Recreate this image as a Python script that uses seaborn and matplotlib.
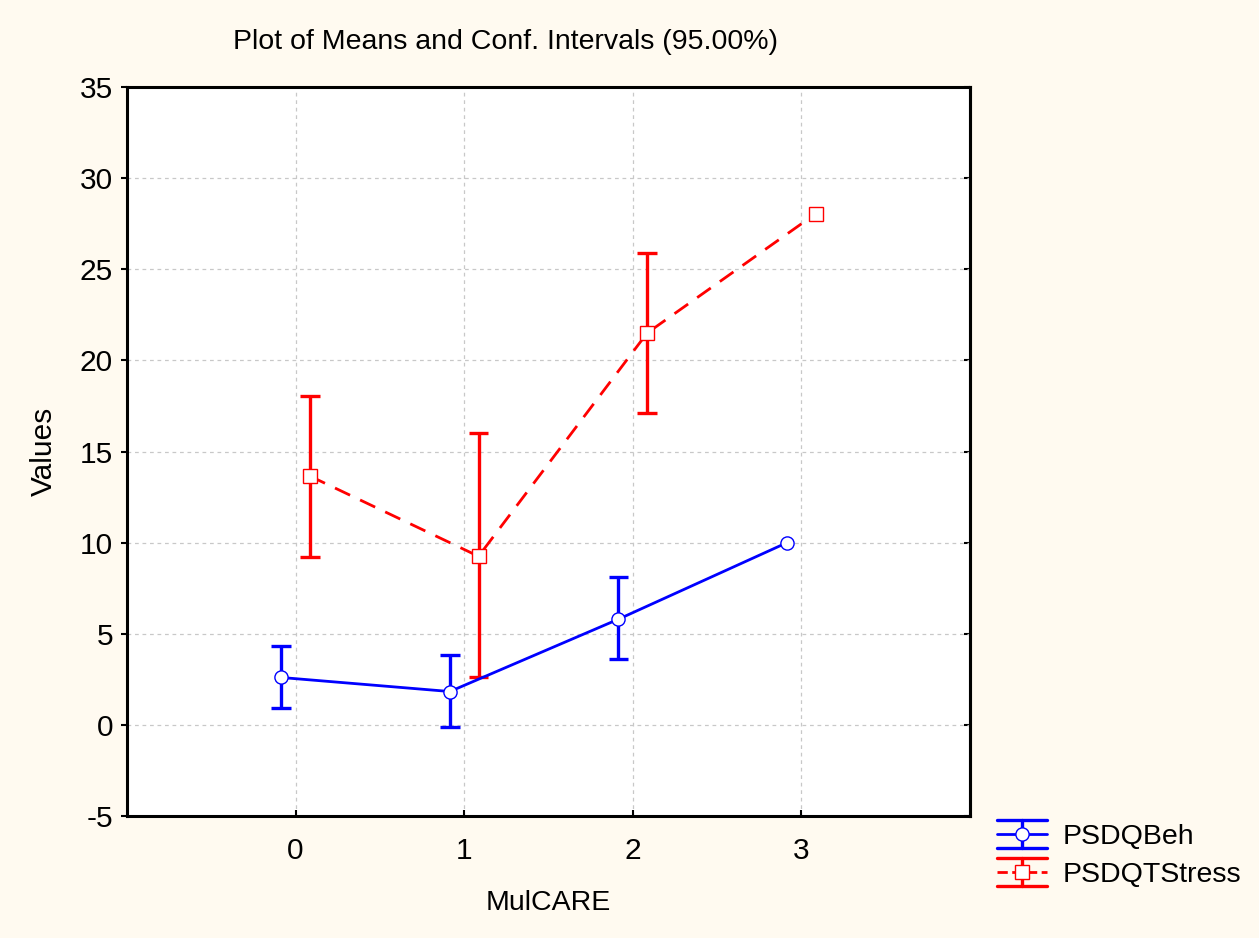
import pandas as pd
import seaborn as sns
import matplotlib
matplotlib.use("Agg")
import matplotlib.pyplot as plt
from matplotlib.lines import Line2D
from matplotlib.legend_handler import HandlerBase

# Data
mulcare = [0, 1, 2, 3]
beh_mean = [2.60, 1.83, 5.80, 10.0]
beh_low = [0.95, -0.09, 3.60, None]
beh_high = [4.34, 3.84, 8.10, None]
stress_mean = [13.65, 9.25, 21.50, 28.05]
stress_low = [9.20, 2.60, 17.10, None]
stress_high = [18.05, 16.00, 25.90, None]
series = ["PSDQBeh", "PSDQTStress"]
colors = ["#0000ff", "#ff0000"]
offsets = [-0.085, 0.085]

sns.set_theme(style="ticks")
plt.rcParams["font.family"] = ["Liberation Sans", "DejaVu Sans"]
plt.rcParams["axes.unicode_minus"] = False
for k in ["text.color", "axes.labelcolor", "xtick.color", "ytick.color"]:
    plt.rcParams[k] = "black"

BG = "#fffaf0"


class CIHandler(HandlerBase):
    def create_artists(self, legend, orig_handle, xdescent, ydescent,
                       width, height, fontsize, trans):
        x0, x1 = -xdescent, -xdescent + width
        y0, y1 = -ydescent - 3, -ydescent + height + 3
        xm, ym = (x0 + x1) / 2, (y0 + y1) / 2
        c = orig_handle.get_color()
        arts = [Line2D([x0, x1], [y0, y0], color=c, lw=2.4),
                Line2D([x0, x1], [y1, y1], color=c, lw=2.4),
                Line2D([xm, xm], [y0, y1], color=c, lw=2.4),
                Line2D([x0, x1], [ym, ym], color=c, lw=2.0,
                       ls=orig_handle.get_linestyle()),
                Line2D([xm], [ym], color=c, marker=orig_handle.get_marker(),
                       ms=9.5, mfc="white", mec=c, mew=1.0, ls="")]
        for a in arts:
            a.set_transform(trans)
        return arts


rows = []
for name, means, off in [(series[0], beh_mean, offsets[0]),
                         (series[1], stress_mean, offsets[1])]:
    for x, m in zip(mulcare, means):
        rows.append({"MulCARE": x + off, "Values": m, "var": name})
df = pd.DataFrame(rows)

fig = plt.figure(figsize=(12.59, 9.38), dpi=100, facecolor=BG)
ax = fig.add_axes([127 / 1259, 1 - 816 / 938, 843 / 1259, 729 / 938])
ax.set_facecolor("white")

sns.lineplot(data=df, x="MulCARE", y="Values", hue="var", style="var",
             palette=colors, markers=["o", "s"], dashes=[(1, 0), (6, 4)],
             lw=2.0, ms=9.5, markerfacecolor="white", markeredgewidth=1.0,
             ax=ax, legend=False, zorder=3)

for i, (lo, hi) in enumerate([(beh_low, beh_high), (stress_low, stress_high)]):
    for x, l, h in zip(mulcare, lo, hi):
        if l is None:
            continue
        ax.vlines(x + offsets[i], l, h, color=colors[i], lw=2.4, zorder=2)
        ax.hlines([l, h], x + offsets[i] - 0.058, x + offsets[i] + 0.058,
                  color=colors[i], lw=2.4, zorder=2)

for ln, c in zip(ax.get_lines(), colors):
    ln.set_markeredgecolor(c)

ax.set_xlim(-1, 4)
ax.set_ylim(-5, 35)
ax.set_xticks(mulcare)
ax.set_yticks(range(-5, 36, 5))
ax.grid(True, color="#c8c8c8", ls=(0, (3, 3)), lw=0.9)
for s in ax.spines.values():
    s.set_visible(True)
    s.set_color("black")
    s.set_linewidth(2.2)
ax.tick_params(axis="y", direction="out", length=4, width=1.5, labelsize=21.5,
               pad=6)
ax.tick_params(axis="x", direction="in", length=4, width=1.5, labelsize=21.5,
               pad=15, top=False)
right = ax.secondary_yaxis("right")
right.set_yticks(range(-5, 36, 5))
right.tick_params(direction="in", length=4, width=1.5, labelright=False)
right.spines["right"].set_linewidth(2.2)

ax.set_xlabel("MulCARE", fontsize=20.5, labelpad=18)
ax.set_ylabel("Values", fontsize=21.5, labelpad=16)

fig.text(505 / 1259, 1 - 42 / 938, "Plot of Means and Conf. Intervals (95.00%)",
         ha="center", va="center", fontsize=20.5)

proxies = [Line2D([], [], color=colors[0], ls="-", marker="o"),
           Line2D([], [], color=colors[1], ls=(0, (3, 2)), marker="s")]
fig.legend(proxies, series, loc="upper left",
           bbox_to_anchor=(997 / 1259, 1 - 824 / 938), frameon=False,
           fontsize=20.5, handlelength=1.75, handleheight=0.7,
           handletextpad=0.55, labelspacing=0.42, borderpad=0,
           borderaxespad=0, handler_map={h: CIHandler() for h in proxies})

fig.savefig("out.png", dpi=100, facecolor=BG)
